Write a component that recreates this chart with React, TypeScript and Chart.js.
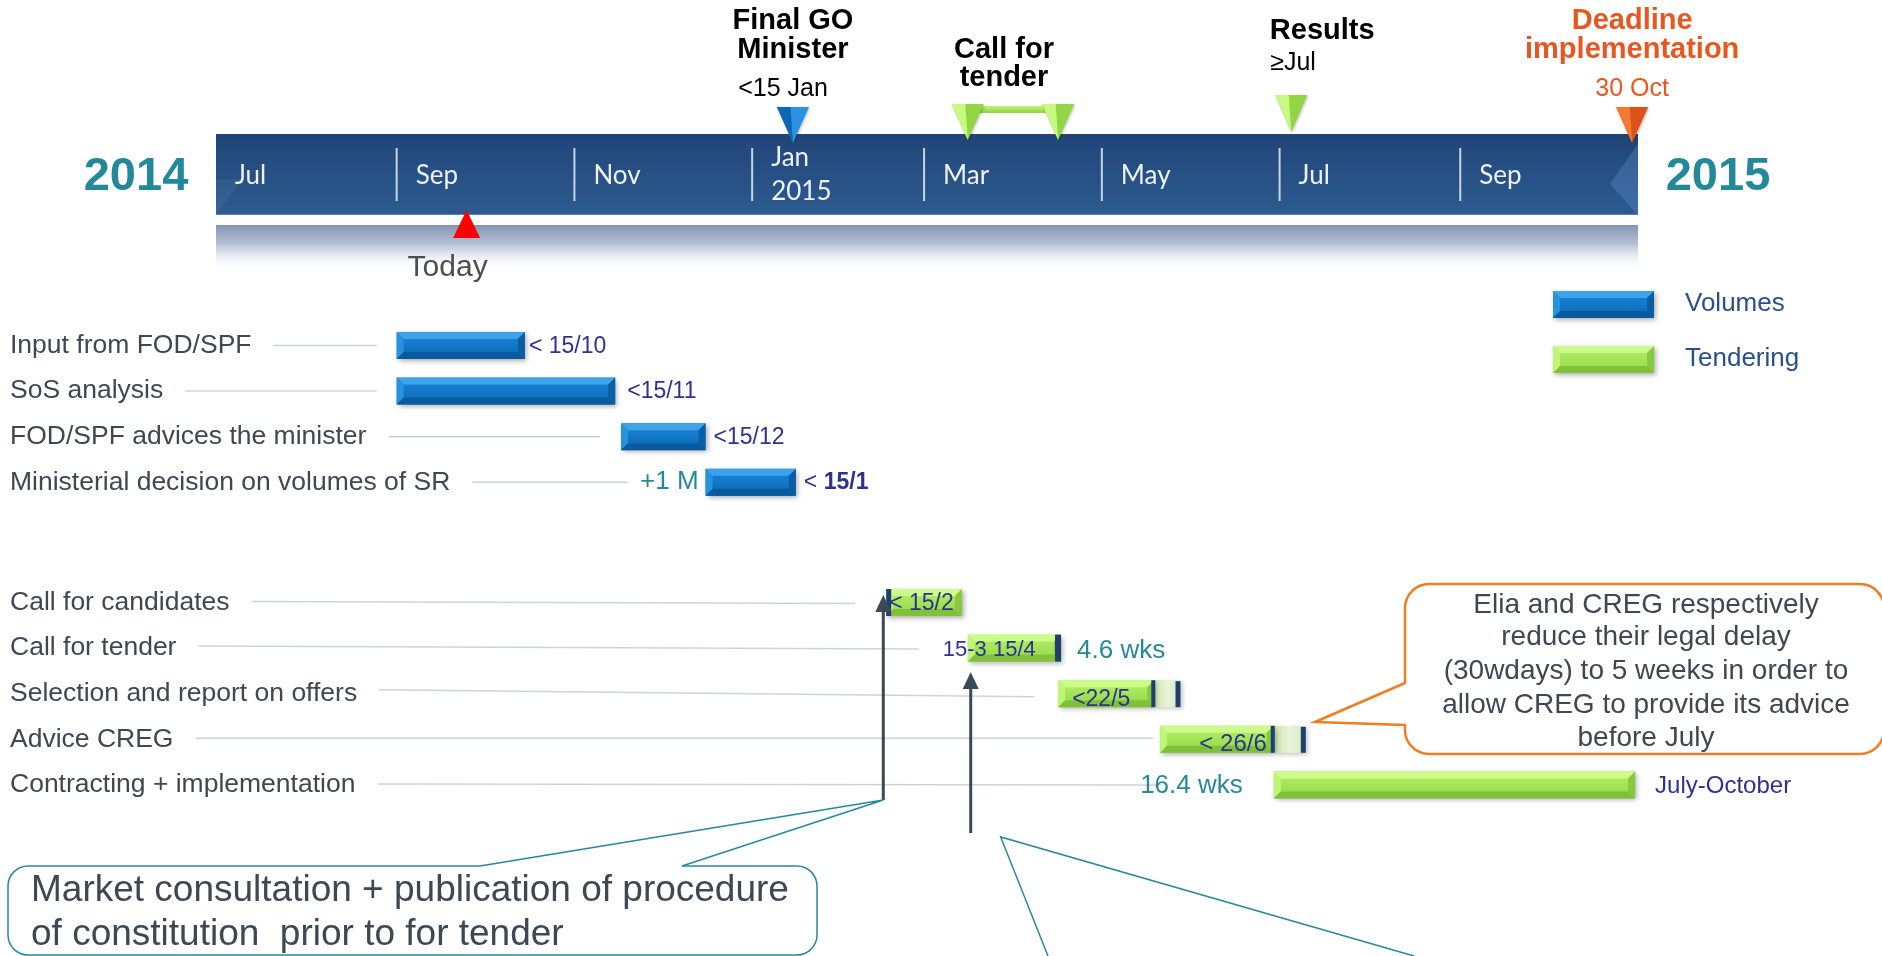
import React, { useEffect, useRef } from 'react';
import { Chart, registerables } from 'chart.js';

Chart.register(...registerables);

// ---------------- data ----------------
const timelineStart = '2014-07-01';
const timelineEnd = '2015-11-01';
const monthTickDates = ['2014-07-01', '2014-09-01', '2014-11-01', '2015-01-01', '2015-03-01', '2015-05-01', '2015-07-01', '2015-09-01'];
const monthTickLabels = ['Jul', 'Sep', 'Nov', 'Jan\n2015', 'Mar', 'May', 'Jul', 'Sep'];
const yearLabels = ['2014', '2015'];

const volumeTasks = ['Input from FOD/SPF', 'SoS analysis', 'FOD/SPF advices the minister', 'Ministerial decision on volumes of SR'];
const volumeStart = ['2014-09-01', '2014-09-01', '2014-11-17', '2014-12-16'];
const volumeEnd = ['2014-10-15', '2014-11-15', '2014-12-16', '2015-01-16'];
const volumeEndLabels = ['< 15/10', '<15/11', '<15/12', '< 15/1'];
const volumeLeadLabels = ['', '', '', '+1 M'];

const tenderTasks = ['Call for candidates', 'Call for tender', 'Selection and report on offers', 'Advice CREG', 'Contracting + implementation'];
const tenderStart = ['2015-02-16', '2015-03-16', '2015-04-16', '2015-05-21', '2015-06-29'];
const tenderEnd = ['2015-03-14', '2015-04-17', '2015-05-19', '2015-06-29', '2015-10-31'];
const tenderSlackEnd: (string | null)[] = [null, null, '2015-05-28', '2015-07-10', null];
const tenderBarLabels = ['< 15/2', '15-3 15/4', '<22/5', '< 26/6', ''];
const tenderDurations = ['', '4.6 wks', '', '', '16.4 wks'];
const tenderAfterLabels = ['', '', '', '', 'July-October'];

const milestoneTitles = ['Final GO\nMinister', 'Call for\ntender', 'Results', 'Deadline\nimplementation'];
const milestoneSubs = ['<15 Jan', '', '≥Jul', '30 Oct'];
const milestoneDates = [['2015-01-15'], ['2015-03-16', '2015-04-16'], ['2015-07-05'], ['2015-10-30']];
const todayDate = '2014-09-25';
const todayLabel = 'Today';
const arrowDates = ['2015-02-15', '2015-03-17'];
const legendLabels = ['Volumes', 'Tendering'];
const calloutLeftText = ['Market consultation + publication of procedure', 'of constitution  prior to for tender'];
const calloutRightText = ['Elia and CREG respectively', 'reduce their legal delay', '(30wdays) to 5 weeks in order to', 'allow CREG to provide its advice', 'before July'];

// ---------------- layout / style ----------------
const W = 1882;
const H = 956;
const BAND_LEFT = 216;
const BAND_RIGHT = 1638;
const BAND_TOP = 134;
const BAND_BOTTOM = 215;
const VOL_ROW0 = 345.5;
const TEN_ROW0 = 602.5;
const ROW_STEP = 45.6;
const BAR_H = 27;

const ARIAL = '"Liberation Sans", Arial, Helvetica, sans-serif';
const LATO = 'Lato, "Open Sans", sans-serif';
const C_LABEL = '#3d4852';
const C_INDIGO = '#2e3192';
const C_TEAL = '#26899a';
const C_ORANGE = '#ea561f';
const C_MARK = '#1f3f72';
const TASK_FONT = `26.5px ${ARIAL}`;

const dayOf = (s: string) => {
  const [y, m, d] = s.split('-').map(Number);
  const [y0, m0, d0] = timelineStart.split('-').map(Number);
  return (Date.UTC(y, m - 1, d) - Date.UTC(y0, m0 - 1, d0)) / 86400000;
};
const PX_PER_DAY = (BAND_RIGHT - BAND_LEFT) / dayOf(timelineEnd);
const X_MIN = -BAND_LEFT / PX_PER_DAY;
const X_MAX = X_MIN + W / PX_PER_DAY;

const volRowY = (i: number) => VOL_ROW0 + i * ROW_STEP;
const tenRowY = (i: number) => TEN_ROW0 + i * ROW_STEP;

type Pal = { f0: string; f1: string; top: string; left: string; right: string; bottom: string };
const BLUE: Pal = { f0: '#1b88da', f1: '#0a68b4', top: '#3ea3ea', left: '#2692e0', right: '#0b5ea4', bottom: '#0a5a9e' };
const GREEN: Pal = { f0: '#b4f266', f1: '#93d649', top: '#cdfb8c', left: '#c0f677', right: '#87c83f', bottom: '#80c13a' };

type Pt = [number, number];
function poly(ctx: CanvasRenderingContext2D, pts: Pt[], fill: string | CanvasGradient) {
  ctx.beginPath();
  ctx.moveTo(pts[0][0], pts[0][1]);
  for (let i = 1; i < pts.length; i++) ctx.lineTo(pts[i][0], pts[i][1]);
  ctx.closePath();
  ctx.fillStyle = fill;
  ctx.fill();
}

function txt(ctx: CanvasRenderingContext2D, s: string, x: number, y: number, font: string, color: string, align: CanvasTextAlign = 'left') {
  ctx.font = font;
  ctx.fillStyle = color;
  ctx.textAlign = align;
  ctx.textBaseline = 'middle';
  ctx.fillText(s, x, y);
}

function bevelBar(ctx: CanvasRenderingContext2D, x: number, y: number, w: number, h: number, p: Pal) {
  ctx.save();
  ctx.shadowColor = 'rgba(0,0,0,0.32)';
  ctx.shadowBlur = 5;
  ctx.shadowOffsetX = 2;
  ctx.shadowOffsetY = 2;
  const g = ctx.createLinearGradient(0, y, 0, y + h);
  g.addColorStop(0, p.f0);
  g.addColorStop(1, p.f1);
  ctx.fillStyle = g;
  ctx.fillRect(x, y, w, h);
  ctx.restore();
  const b = Math.min(7, w / 2, h / 2);
  poly(ctx, [[x, y], [x + w, y], [x + w - b, y + b], [x + b, y + b]], p.top);
  poly(ctx, [[x, y], [x + b, y + b], [x + b, y + h - b], [x, y + h]], p.left);
  poly(ctx, [[x + w, y], [x + w, y + h], [x + w - b, y + h - b], [x + w - b, y + b]], p.right);
  poly(ctx, [[x, y + h], [x + b, y + h - b], [x + w - b, y + h - b], [x + w, y + h]], p.bottom);
}

function triangle(ctx: CanvasRenderingContext2D, cx: number, top: number, tip: number, half: number, cl: string, cr: string) {
  ctx.save();
  ctx.shadowColor = 'rgba(0,0,0,0.25)';
  ctx.shadowBlur = 3;
  ctx.shadowOffsetX = 1;
  ctx.shadowOffsetY = 1;
  poly(ctx, [[cx - half, top], [cx + half, top], [cx, tip]], cr);
  ctx.restore();
  poly(ctx, [[cx - half, top], [cx - half * 0.15, top], [cx, tip]], cl);
}

const TRI_COLORS: Record<string, [string, string]> = {
  blue: ['#0c66b6', '#2a92e0'],
  green: ['#c8f981', '#93d644'],
  orange: ['#f47a34', '#dc5219'],
};
const MS_COLOR = ['blue', 'green', 'green', 'orange'];
const MS_TRI = [[107, 143], [104, 140], [95, 132], [107, 143]];
const MS_TITLE_Y = [[21, 50], [50, 78], [31], [21, 50]];
const MS_TITLE_DX = [0, -9, 31, 0];
const MS_TITLE_COLOR = ['#000', '#000', '#000', C_ORANGE];
const MS_SUB_Y = [89, 0, 63, 89];
const MS_SUB_DX = [-10, 0, -21, 0];
const MS_SUB_ALIGN: CanvasTextAlign[] = ['center', 'center', 'left', 'center'];
const MS_SUB_COLOR = ['#000', '#000', '#000', C_ORANGE];

const VOL_LABEL_DX = [4, 12, 8, 8];
const VOL_LEAD_GAP = [20, 20, 21, 78];
const TEN_LEAD_GAP = [31, 49, 24, 7, 113];
const TEN_LEAD_DY: Pt[] = [[-1, 1], [-2, 1], [-4, 3], [-1, -1], [-1, 0]];
const MARKERS = ['start', 'end', 'split', 'split', 'none'];

function drawBackground(chart: any) {
  const ctx: CanvasRenderingContext2D = chart.ctx;
  const sx = chart.scales.x;
  const X = (s: string) => sx.getPixelForValue(dayOf(s));
  const bl = X(timelineStart);
  const br = X(timelineEnd);
  ctx.save();
  ctx.fillStyle = '#ffffff';
  ctx.fillRect(0, 0, W, H);

  // soft band below the timeline
  let g = ctx.createLinearGradient(0, 225, 0, 272);
  g.addColorStop(0, '#8395b4');
  g.addColorStop(0.4, '#b5c0d4');
  g.addColorStop(1, 'rgba(255,255,255,0)');
  ctx.fillStyle = g;
  ctx.fillRect(bl, 225, br - bl, 47);

  // main timeline band
  g = ctx.createLinearGradient(0, BAND_TOP, 0, BAND_BOTTOM);
  g.addColorStop(0, '#204578');
  g.addColorStop(1, '#2d5b90');
  ctx.fillStyle = g;
  ctx.fillRect(bl, BAND_TOP, br - bl, BAND_BOTTOM - BAND_TOP);
  poly(ctx, [[bl, BAND_BOTTOM], [bl, BAND_BOTTOM - 36], [bl + 26, BAND_BOTTOM - 36]], 'rgba(255,255,255,0.05)');
  poly(ctx, [[br, BAND_TOP + 10], [br - 28, BAND_TOP + 50], [br, BAND_BOTTOM]], 'rgba(110,160,220,0.28)');
  ctx.fillStyle = 'rgba(255,255,255,0.22)';
  ctx.fillRect(bl, BAND_BOTTOM - 1, br - bl, 1);

  monthTickDates.forEach((d, i) => {
    const px = X(d);
    if (i > 0) {
      ctx.strokeStyle = 'rgba(228,235,245,0.85)';
      ctx.lineWidth = 2;
      ctx.beginPath();
      ctx.moveTo(px, 148);
      ctx.lineTo(px, 201);
      ctx.stroke();
    }
    const lines = monthTickLabels[i].split('\n');
    if (lines.length === 1) txt(ctx, lines[0], px + 19, 176, `26px ${LATO}`, '#eef2f8');
    else {
      txt(ctx, lines[0], px + 19, 158, `26px ${LATO}`, '#eef2f8');
      txt(ctx, lines[1], px + 19, 192, `26px ${LATO}`, '#eef2f8');
    }
  });

  txt(ctx, yearLabels[0], bl - 80, 177, `bold 47px ${ARIAL}`, '#23899a', 'center');
  txt(ctx, yearLabels[1], br + 80, 177, `bold 47px ${ARIAL}`, '#23899a', 'center');

  // milestones
  milestoneDates.forEach((ds, i) => {
    const xs = ds.map(X);
    const [top, tip] = MS_TRI[i];
    const [cl, cr] = TRI_COLORS[MS_COLOR[i]];
    if (xs.length > 1) {
      const cg = ctx.createLinearGradient(0, top + 2, 0, top + 9);
      cg.addColorStop(0, '#c2f57c');
      cg.addColorStop(1, '#8fd444');
      ctx.fillStyle = cg;
      ctx.fillRect(xs[0], top + 2, xs[xs.length - 1] - xs[0], 7);
    }
    xs.forEach((px) => triangle(ctx, px, top, tip, 16, cl, cr));
    const cx = xs.reduce((a, b) => a + b, 0) / xs.length;
    const lines = milestoneTitles[i].split('\n');
    lines.forEach((ln, k) => txt(ctx, ln, cx + MS_TITLE_DX[i], MS_TITLE_Y[i][k], `bold 29px ${ARIAL}`, MS_TITLE_COLOR[i], 'center'));
    if (milestoneSubs[i]) {
      const sxp = MS_SUB_ALIGN[i] === 'left' ? xs[0] + MS_SUB_DX[i] : cx + MS_SUB_DX[i];
      txt(ctx, milestoneSubs[i], sxp, MS_SUB_Y[i], `25px ${ARIAL}`, MS_SUB_COLOR[i], MS_SUB_ALIGN[i]);
    }
  });

  // today
  const tx = X(todayDate);
  poly(ctx, [[tx, 210], [tx - 13.5, 238], [tx + 13.5, 238]], '#ff0000');
  txt(ctx, todayLabel, tx - 19, 268, `30px ${ARIAL}`, '#4d4d4d', 'center');

  // legend
  bevelBar(ctx, 1553, 291, 101, BAR_H, BLUE);
  bevelBar(ctx, 1553, 346, 101, BAR_H, GREEN);
  txt(ctx, legendLabels[0], 1685, 304, `26px ${ARIAL}`, '#2b4f8c');
  txt(ctx, legendLabels[1], 1685, 359, `26px ${ARIAL}`, '#2b4f8c');

  // task labels + leader lines
  ctx.strokeStyle = '#d0d3d6';
  ctx.lineWidth = 1.5;
  volumeTasks.forEach((t, i) => {
    const y = volRowY(i);
    txt(ctx, t, 10, y, TASK_FONT, C_LABEL);
    const w = ctx.measureText(t).width;
    ctx.beginPath();
    ctx.moveTo(10 + w + 22, y);
    ctx.lineTo(X(volumeStart[i]) - VOL_LEAD_GAP[i], y);
    ctx.stroke();
  });
  tenderTasks.forEach((t, i) => {
    const y = tenRowY(i);
    txt(ctx, t, 10, y, TASK_FONT, C_LABEL);
    const w = ctx.measureText(t).width;
    ctx.beginPath();
    ctx.moveTo(10 + w + 22, y + TEN_LEAD_DY[i][0]);
    ctx.lineTo(X(tenderStart[i]) - TEN_LEAD_GAP[i], y + TEN_LEAD_DY[i][1]);
    ctx.stroke();
  });
  ctx.restore();
}

function rectOf(el: any) {
  const p = el.getProps(['x', 'y', 'base', 'height'], true);
  const l = Math.min(p.x, p.base);
  const r = Math.max(p.x, p.base);
  return { l, r, t: p.y - p.height / 2, h: p.height, cy: p.y };
}

function arrowUp(ctx: CanvasRenderingContext2D, x: number, yBottom: number, yTip: number) {
  ctx.strokeStyle = '#3b4a55';
  ctx.lineWidth = 3;
  ctx.beginPath();
  ctx.moveTo(x, yBottom);
  ctx.lineTo(x, yTip + 14);
  ctx.stroke();
  poly(ctx, [[x, yTip], [x - 8, yTip + 17], [x + 8, yTip + 17]], '#3b4a55');
}

function drawForeground(chart: any) {
  const ctx: CanvasRenderingContext2D = chart.ctx;
  const sx = chart.scales.x;
  const X = (s: string) => sx.getPixelForValue(dayOf(s));
  ctx.save();

  const volRects = chart.getDatasetMeta(0).data.map(rectOf);
  const tenRects = chart.getDatasetMeta(1).data.map(rectOf);
  const slackRects = chart.getDatasetMeta(2).data.map(rectOf);

  volRects.forEach((r: any) => bevelBar(ctx, r.l, r.t, r.r - r.l, r.h, BLUE));

  // slack segments
  let k = 0;
  const slackByRow: any[] = tenderSlackEnd.map((s) => (s ? slackRects[k++] : null));
  slackByRow.forEach((r) => {
    if (!r) return;
    ctx.save();
    ctx.shadowColor = 'rgba(0,0,0,0.2)';
    ctx.shadowBlur = 4;
    ctx.shadowOffsetX = 2;
    ctx.shadowOffsetY = 2;
    const g = ctx.createLinearGradient(r.l, 0, r.r, 0);
    g.addColorStop(0, '#cfe6b0');
    g.addColorStop(0.5, '#e9f4dc');
    g.addColorStop(1, '#d3e9b6');
    ctx.fillStyle = g;
    ctx.fillRect(r.l, r.t, r.r - r.l, r.h);
    ctx.restore();
  });
  tenRects.forEach((r: any) => bevelBar(ctx, r.l, r.t, r.r - r.l, r.h, GREEN));

  // milestone markers on tender bars
  ctx.fillStyle = C_MARK;
  tenRects.forEach((r: any, i: number) => {
    if (MARKERS[i] === 'start') ctx.fillRect(r.l, r.t, 5, r.h);
    if (MARKERS[i] === 'end') ctx.fillRect(r.r - 6, r.t, 6, r.h);
    if (MARKERS[i] === 'split') {
      ctx.fillRect(r.r - 3, r.t, 4, r.h);
      const s = slackByRow[i];
      if (s) ctx.fillRect(s.r - 5, s.t + 1, 5, s.h - 1);
    }
  });

  // volume labels
  volRects.forEach((r: any, i: number) => {
    const lab = volumeEndLabels[i];
    const x0 = r.r + VOL_LABEL_DX[i];
    if (i === volumeEndLabels.length - 1 && lab.startsWith('< ')) {
      ctx.font = `23px ${ARIAL}`;
      txt(ctx, '< ', x0, r.cy, `23px ${ARIAL}`, C_INDIGO);
      const w = ctx.measureText('< ').width;
      txt(ctx, lab.slice(2), x0 + w, r.cy, `bold 23px ${ARIAL}`, C_INDIGO);
    } else {
      txt(ctx, lab, x0, r.cy + 1, `23px ${ARIAL}`, C_INDIGO);
    }
    if (volumeLeadLabels[i]) txt(ctx, volumeLeadLabels[i], r.l - 7, r.cy, `26px ${ARIAL}`, C_TEAL, 'right');
  });

  // tender labels
  tenRects.forEach((r: any, i: number) => {
    const lab = tenderBarLabels[i];
    if (i === 0) txt(ctx, lab, r.l + 3, r.cy + 1, `23px ${ARIAL}`, C_INDIGO);
    if (i === 1) txt(ctx, lab, r.l - 25, r.cy + 2, `22px ${ARIAL}`, C_INDIGO);
    if (i === 2) txt(ctx, lab, r.l + 14, r.cy + 6, `23px ${ARIAL}`, C_INDIGO);
    if (i === 3) txt(ctx, lab, r.r - 7, r.cy + 5, `24px ${ARIAL}`, C_INDIGO, 'right');
    if (tenderDurations[i]) {
      if (i === 1) txt(ctx, tenderDurations[i], r.r + 16, r.cy + 3, `26px ${ARIAL}`, C_TEAL);
      else txt(ctx, tenderDurations[i], r.l - 31, r.cy + 1, `26px ${ARIAL}`, C_TEAL, 'right');
    }
    if (tenderAfterLabels[i]) txt(ctx, tenderAfterLabels[i], r.r + 20, r.cy + 1, `24px ${ARIAL}`, C_INDIGO);
  });

  // arrows
  const a1 = X(arrowDates[0]);
  const a2 = X(arrowDates[1]);
  arrowUp(ctx, a1, 800, 595);
  arrowUp(ctx, a2, 833, 672);

  // left callout
  ctx.strokeStyle = C_TEAL;
  ctx.lineWidth = 1.5;
  const bx0 = 8, bx1 = 817, by0 = 866, by1 = 955, rr = 20;
  ctx.beginPath();
  ctx.moveTo(480, by0);
  ctx.lineTo(bx0 + rr, by0);
  ctx.arcTo(bx0, by0, bx0, by0 + rr, rr);
  ctx.lineTo(bx0, by1 - rr);
  ctx.arcTo(bx0, by1, bx0 + rr, by1, rr);
  ctx.lineTo(bx1 - rr, by1);
  ctx.arcTo(bx1, by1, bx1, by1 - rr, rr);
  ctx.lineTo(bx1, by0 + rr);
  ctx.arcTo(bx1, by0, bx1 - rr, by0, rr);
  ctx.lineTo(682, by0);
  ctx.stroke();
  ctx.beginPath();
  ctx.moveTo(480, by0);
  ctx.lineTo(a1, 800);
  ctx.lineTo(682, by0);
  ctx.stroke();
  txt(ctx, calloutLeftText[0], 31, 891, `37px ${ARIAL}`, C_LABEL);
  txt(ctx, calloutLeftText[1], 31, 935, `37px ${ARIAL}`, C_LABEL);

  // callout below second arrow
  ctx.beginPath();
  ctx.moveTo(1048, H);
  ctx.lineTo(a2 + 30, 837);
  ctx.lineTo(1414, H);
  ctx.stroke();

  // right callout
  const rx0 = 1405, rx1 = 1884, ry0 = 584, ry1 = 754, r2 = 24;
  ctx.beginPath();
  ctx.moveTo(rx0, 683);
  ctx.lineTo(1315, 722);
  ctx.lineTo(rx0, 725);
  ctx.lineTo(rx0, ry1 - r2);
  ctx.arcTo(rx0, ry1, rx0 + r2, ry1, r2);
  ctx.lineTo(rx1 - r2, ry1);
  ctx.arcTo(rx1, ry1, rx1, ry1 - r2, r2);
  ctx.lineTo(rx1, ry0 + r2);
  ctx.arcTo(rx1, ry0, rx1 - r2, ry0, r2);
  ctx.lineTo(rx0 + r2, ry0);
  ctx.arcTo(rx0, ry0, rx0, ry0 + r2, r2);
  ctx.closePath();
  ctx.fillStyle = '#ffffff';
  ctx.fill();
  ctx.strokeStyle = '#ef7d22';
  ctx.lineWidth = 2.5;
  ctx.stroke();
  const ly = [605, 637, 671, 705, 738];
  calloutRightText.forEach((s, i) => txt(ctx, s, 1646, ly[i], `28px ${ARIAL}`, C_LABEL, 'center'));

  ctx.restore();
}

const decorPlugin = {
  id: 'ganttDecor',
  beforeDatasetsDraw(chart: any) {
    drawBackground(chart);
  },
  afterDatasetsDraw(chart: any) {
    drawForeground(chart);
  },
};

export default function App() {
  const ref = useRef<HTMLCanvasElement>(null);
  useEffect(() => {
    const canvas = ref.current;
    if (!canvas) return;
    const volData = volumeTasks.map((_, i) => ({ x: [dayOf(volumeStart[i]), dayOf(volumeEnd[i])], y: volRowY(i) }));
    const tenData = tenderTasks.map((_, i) => ({ x: [dayOf(tenderStart[i]), dayOf(tenderEnd[i])], y: tenRowY(i) }));
    const slackData = tenderSlackEnd
      .map((s, i) => (s ? { x: [dayOf(tenderEnd[i]), dayOf(s)], y: tenRowY(i) } : null))
      .filter(Boolean) as any[];
    const chart = new Chart(canvas, {
      type: 'bar',
      data: {
        datasets: [
          { label: legendLabels[0], data: volData as any, backgroundColor: 'rgba(0,0,0,0)' },
          { label: legendLabels[1], data: tenData as any, backgroundColor: 'rgba(0,0,0,0)' },
          { label: 'slack', data: slackData, backgroundColor: 'rgba(0,0,0,0)' },
        ],
      },
      options: {
        animation: false,
        responsive: false,
        indexAxis: 'y',
        events: [],
        layout: { padding: 0 },
        datasets: { bar: { grouped: false, barThickness: BAR_H, borderWidth: 0, inflateAmount: 0 } as any },
        plugins: { legend: { display: false }, tooltip: { enabled: false }, title: { display: false } },
        scales: {
          x: { type: 'linear', min: X_MIN, max: X_MAX, display: false, offset: false },
          y: { type: 'linear', min: 0, max: H, reverse: true, display: false, offset: false },
        },
      } as any,
      plugins: [decorPlugin],
    });
    return () => chart.destroy();
  }, []);
  return (
    <div style={{ position: 'absolute', left: 0, top: 0, width: W, height: H, background: '#fff' }}>
      <canvas ref={ref} width={W} height={H} style={{ display: 'block', width: W, height: H }} />
    </div>
  );
}
